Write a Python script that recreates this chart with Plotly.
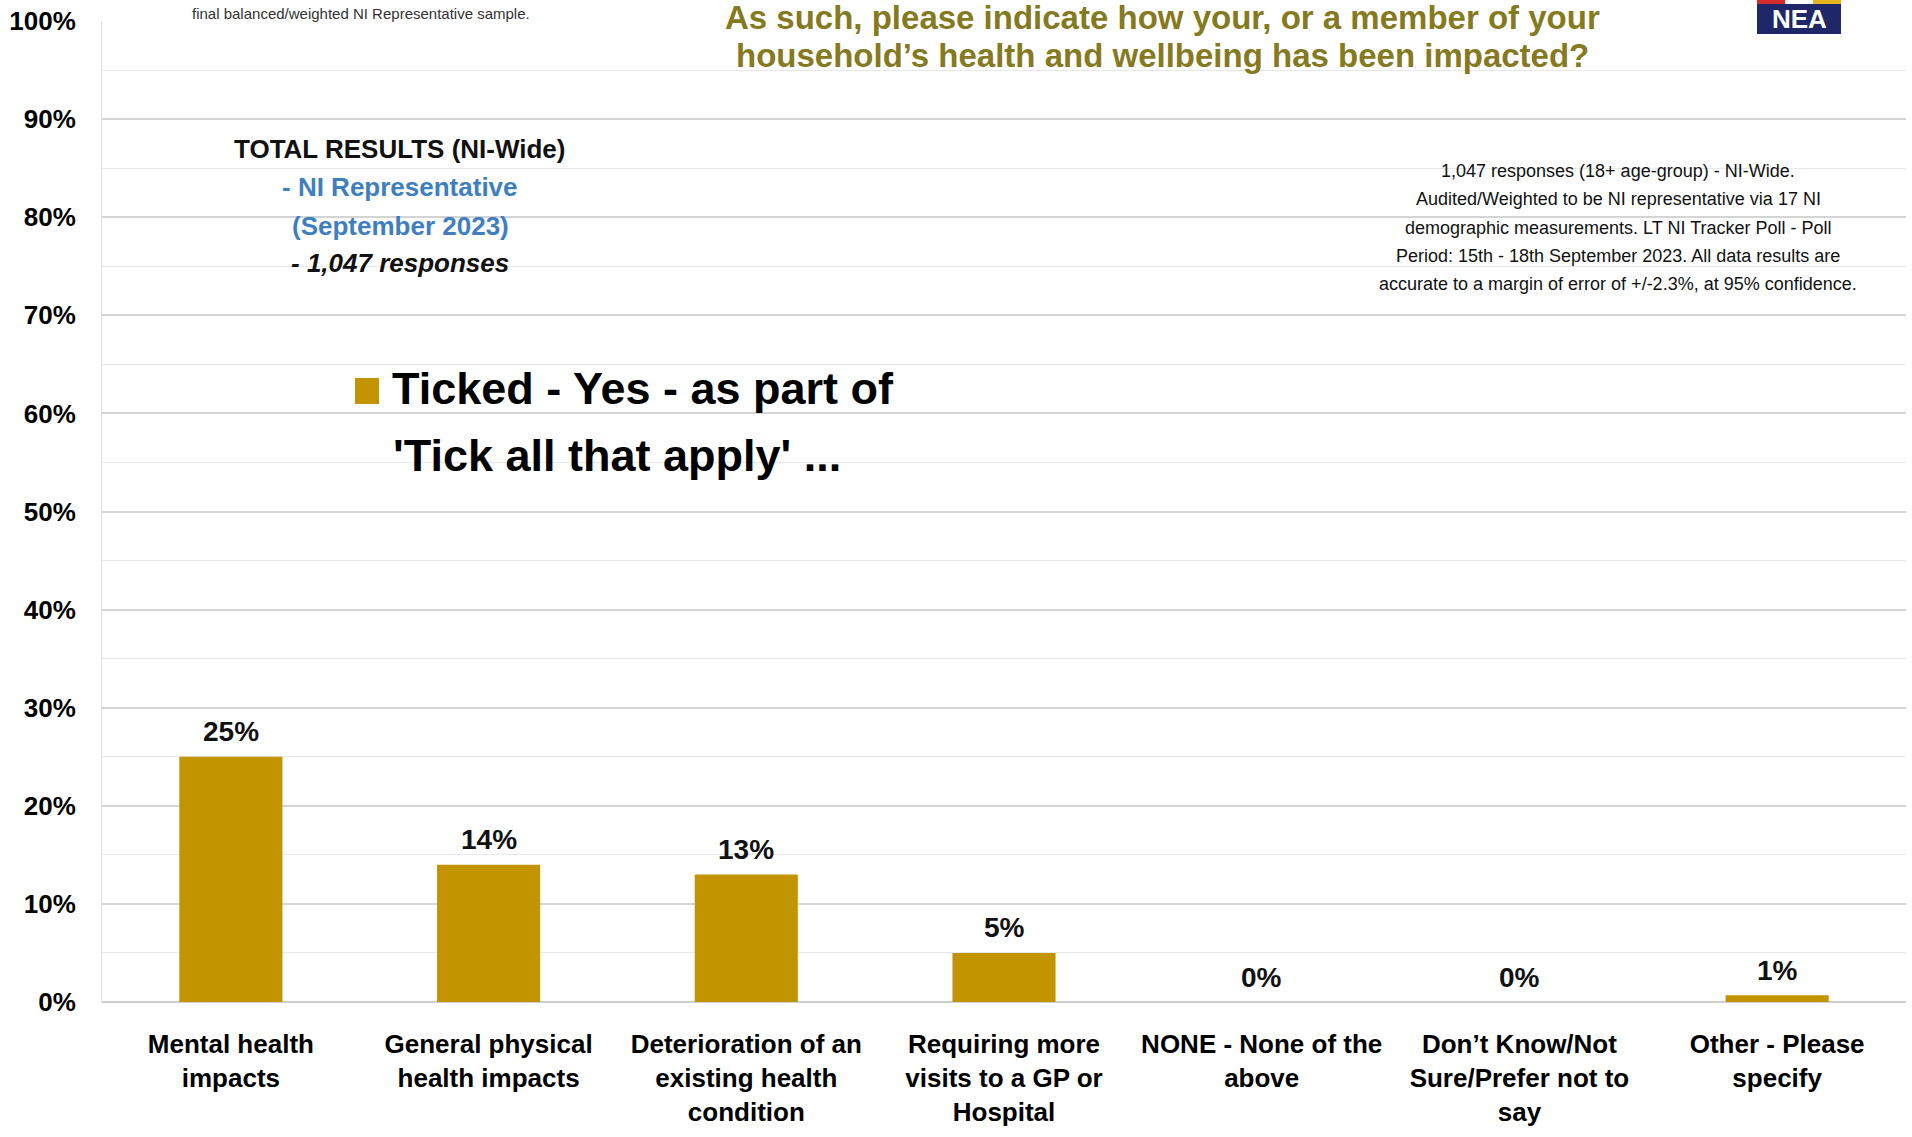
import plotly.graph_objects as go

categories = [
    "Mental health<br>impacts",
    "General physical<br>health impacts",
    "Deterioration of an<br>existing health<br>condition",
    "Requiring more<br>visits to a GP or<br>Hospital",
    "NONE - None of the<br>above",
    "Don’t Know/Not<br>Sure/Prefer not to<br>say",
    "Other - Please<br>specify",
]
values = [25, 14, 13, 5, 0, 0, 0.7]
y_ticks = [0, 10, 20, 30, 40, 50, 60, 70, 80, 90, 100]
y_tick_labels = ["0%", "10%", "20%", "30%", "40%", "50%", "60%", "70%", "80%", "90%", "100%"]

series_name = "Ticked - Yes - as part of<br>'Tick all that apply' ..."
title_lines = ["As such, please indicate how your, or a member of your",
               "household’s health and wellbeing has been impacted?"]
left_block = [
    ("TOTAL RESULTS (NI-Wide)", "#111111", False),
    ("- NI Representative", "#3F7FBF", False),
    ("(September 2023)", "#3F7FBF", False),
    ("- 1,047 responses", "#111111", True),
]
note_lines = [
    "1,047 responses (18+ age-group) - NI-Wide.",
    "Audited/Weighted to be NI representative via 17 NI",
    "demographic measurements. LT NI Tracker Poll - Poll",
    "Period: 15th - 18th September 2023. All data results are",
    "accurate to a margin of error of +/-2.3%, at 95% confidence.",
]
top_note = "final balanced/weighted NI Representative sample."

W, H = 1912, 1137
ML, MR, MT, MB = 102, 6, 21, 135
PW = W - ML - MR
PH = H - MT - MB

def xp(x):  # page px -> paper
    return (x - ML) / PW

def yp(y):
    return (H - MB - y) / PH

GOLD = "#C29500"
BOLD = "Liberation Sans, Arial, sans-serif"

fig = go.Figure()
fig.add_trace(go.Bar(
    x=categories, y=values,
    marker=dict(color=GOLD, line=dict(width=0)),
    showlegend=False, name="Ticked - Yes",
))

annotations = []
# data labels
for c, v in zip(categories, values):
    annotations.append(dict(
        x=c, y=v, xref="x", yref="y", text=f"<b>{v:.0f}%</b>",
        showarrow=False, yanchor="middle", yshift=25,
        font=dict(family=BOLD, size=28, color="#111111")))
# title
for line, yy in zip(title_lines, [17, 56]):
    annotations.append(dict(
        text=f"<b>{line}</b>", x=xp(1162), y=yp(yy), xref="paper", yref="paper",
        xanchor="center", yanchor="middle", showarrow=False,
        font=dict(family=BOLD, size=33, color="#857A1F")))
# top-left small note
annotations.append(dict(
    text=top_note, x=xp(361), y=yp(13), xref="paper", yref="paper",
    xanchor="center", yanchor="middle", showarrow=False,
    font=dict(family=BOLD, size=15, color="#333333")))
# left block
for (txt, col, ital), yy in zip(left_block, [149, 187, 226, 263]):
    t = f"<b><i>{txt}</i></b>" if ital else f"<b>{txt}</b>"
    annotations.append(dict(
        text=t, x=xp(400), y=yp(yy), xref="paper", yref="paper",
        xanchor="center", yanchor="middle", showarrow=False,
        font=dict(family=BOLD, size=26, color=col)))
# right note
for txt, yy in zip(note_lines, [171, 199, 228, 256, 284]):
    annotations.append(dict(
        text=txt, x=xp(1618), y=yp(yy), xref="paper", yref="paper",
        xanchor="center", yanchor="middle", showarrow=False,
        font=dict(family=BOLD, size=18, color="#111111")))
# legend text
for txt, yy, xx in zip(series_name.split("<br>"), [388, 455], [390, 391]):
    annotations.append(dict(
        text=f"<b>{txt}</b>", x=xp(xx), y=yp(yy), xref="paper", yref="paper",
        xanchor="left", yanchor="middle", showarrow=False,
        font=dict(family=BOLD, size=45, color="#000000")))
# NEA logo text
annotations.append(dict(
    text="<b>NEA</b>", x=xp(1799), y=yp(19), xref="paper", yref="paper",
    xanchor="center", yanchor="middle", showarrow=False,
    font=dict(family=BOLD, size=26, color="#FFFFFF")))

shapes = [
    dict(type="rect", xref="paper", yref="paper", x0=xp(355), x1=xp(379), y0=yp(404), y1=yp(378),
         fillcolor=GOLD, line=dict(width=0)),
    dict(type="rect", xref="paper", yref="paper", x0=xp(1757), x1=xp(1841), y0=yp(34), y1=yp(4),
         fillcolor="#1F2768", line=dict(width=0)),
    dict(type="rect", xref="paper", yref="paper", x0=xp(1757), x1=xp(1785), y0=yp(4), y1=yp(0),
         fillcolor="#D42A2A", line=dict(width=0)),
    dict(type="rect", xref="paper", yref="paper", x0=xp(1813), x1=xp(1841), y0=yp(4), y1=yp(0),
         fillcolor="#E8B61E", line=dict(width=0)),
]

fig.update_layout(
    width=W, height=H,
    margin=dict(l=ML, r=MR, t=MT, b=MB),
    paper_bgcolor="white", plot_bgcolor="white",
    bargap=0.6,
    annotations=annotations, shapes=shapes,
    showlegend=False,
)
fig.update_xaxes(
    tickfont=dict(family=BOLD, size=26, color="#000000"),
    ticklabelstandoff=24, showgrid=False, showline=False,
    tickprefix="<b>", ticksuffix="</b>",
)
fig.update_yaxes(
    range=[0, 100], tickvals=y_ticks, ticktext=[f"<b>{t}</b>" for t in y_tick_labels],
    tickfont=dict(family=BOLD, size=26, color="#000000"),
    ticklabelstandoff=20,
    showgrid=True, gridcolor="#D4D4D4", gridwidth=1.5,
    minor=dict(dtick=5, showgrid=True, gridcolor="#E8E8E8", gridwidth=1),
    zeroline=True, zerolinecolor="#CFCFCF", zerolinewidth=1.5,
    showline=True, linecolor="#E0E0E0", linewidth=1,
)

fig.write_html("out.html", config={"displayModeBar": False},
               post_script="document.body.style.margin='0';")
